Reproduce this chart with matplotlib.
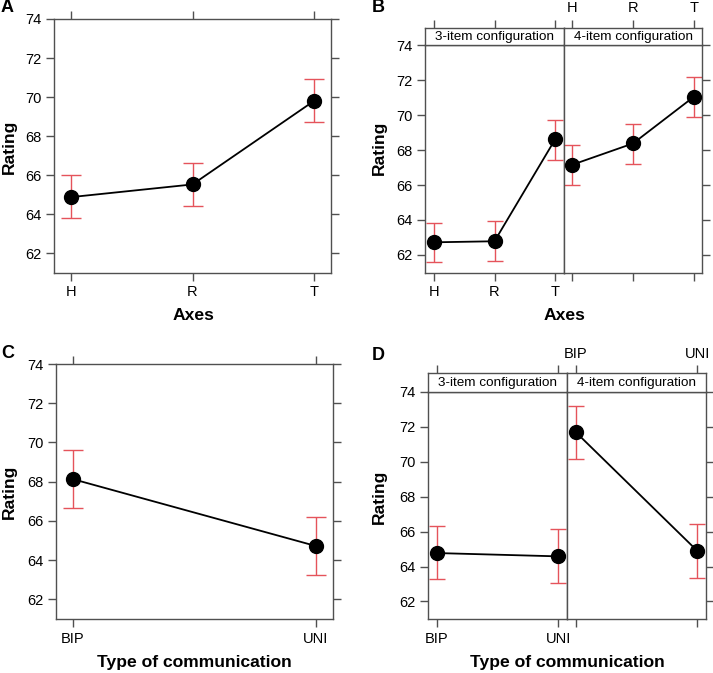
import matplotlib.pyplot as plt
import numpy as np

plt.rcParams['font.family'] = ['Liberation Sans', 'DejaVu Sans']

# data
axes_cats = ["H", "R", "T"]
comm_cats = ["BIP", "UNI"]

a_fit = [64.87, 65.52, 69.80]
a_lo = [63.78, 64.40, 68.72]
a_hi = [66.00, 66.62, 70.90]

b3_fit = [62.72, 62.78, 68.62]
b3_lo = [61.57, 61.64, 67.44]
b3_hi = [63.85, 63.94, 69.74]
b4_fit = [67.16, 68.38, 71.05]
b4_lo = [66.00, 67.22, 69.90]
b4_hi = [68.28, 69.52, 72.20]

c_fit = [68.13, 64.72]
c_lo = [66.64, 63.23]
c_hi = [69.62, 66.22]

d3_fit = [64.77, 64.58]
d3_lo = [63.28, 63.05]
d3_hi = [66.29, 66.15]
d4_fit = [71.70, 64.90]
d4_lo = [70.17, 63.37]
d4_hi = [73.19, 66.42]

W, H = 713, 673
fig = plt.figure(figsize=(W / 100, H / 100), dpi=100)

FRAME = "#505050"
ERR = "#E5535B"
YLIM = (60.98, 74)
YT = [62, 64, 66, 68, 70, 72, 74]


def box(x0, y0, x1, y1):
    return [x0 / W, 1 - y1 / H, (x1 - x0) / W, (y1 - y0) / H]


def style(ax):
    for s in ax.spines.values():
        s.set_color(FRAME)
        s.set_linewidth(1)
    ax.tick_params(direction="out", length=6, width=1, color=FRAME,
                   labelsize=10.5, pad=3)


def draw(ax, cats, fit, lo, hi, cap):
    x = np.arange(1, len(cats) + 1)
    fit = np.array(fit)
    ax.errorbar(x, fit, yerr=[fit - np.array(lo), np.array(hi) - fit],
                fmt="none", ecolor=ERR, elinewidth=1, capsize=cap,
                capthick=1, zorder=2)
    ax.plot(x, fit, color="black", lw=1.3, marker="o", ms=10,
            mfc="black", mec="black", zorder=3)
    ax.set_xlim(1 - 0.07 * (len(cats) - 1), len(cats) + 0.07 * (len(cats) - 1))
    ax.set_ylim(*YLIM)
    ax.set_xticks(x)
    ax.set_yticks(YT)
    style(ax)


def single(pos, cats, fit, lo, hi, cap):
    ax = fig.add_axes(box(*pos))
    draw(ax, cats, fit, lo, hi, cap)
    ax.set_xticklabels(cats)
    ax.tick_params(top=True, right=True, labeltop=False, labelright=False)
    return ax


def paneled(x0, xm, x1, ys, y0, y1, cats, fits, los, his, cap):
    axs = []
    for k, (a, b) in enumerate([(x0, xm), (xm, x1)]):
        ax = fig.add_axes(box(a, y0, b, y1))
        draw(ax, cats, fits[k], los[k], his[k], cap)
        st = fig.add_axes(box(a, ys, b, y0), sharex=ax)
        st.set_yticks([])
        style(st)
        st.text(0.5, 0.47, ["3-item configuration", "4-item configuration"][k],
                transform=st.transAxes, ha="center", va="center", fontsize=9.7)
        st.tick_params(bottom=False, labelbottom=False, top=True)
        if k == 0:
            ax.set_xticklabels(cats)
            ax.tick_params(right=False)
            st.tick_params(labeltop=False)
        else:
            ax.tick_params(left=False, labelleft=False, right=True,
                           labelbottom=False)
            st.tick_params(labeltop=True)
            st.set_xticklabels(cats)
        axs.append(ax)
    return axs


# A
single((54, 19, 331, 273), axes_cats, a_fit, a_lo, a_hi, 7)
# B
paneled(425.3, 563.7, 702.3, 28, 45.3, 272.7, axes_cats,
        [b3_fit, b4_fit], [b3_lo, b4_lo], [b3_hi, b4_hi], 6)
# C
single((55.7, 364, 332.7, 619.3), comm_cats, c_fit, c_lo, c_hi, 7)
# D
paneled(428.3, 567, 705.7, 373.3, 391.7, 619.3, comm_cats,
        [d3_fit, d4_fit], [d3_lo, d4_lo], [d3_hi, d4_hi], 6)

lab = dict(fontsize=12.6, fontweight="bold")
for x, y in [(9, 147), (9, 492), (379, 148), (379, 497)]:
    fig.text(x / W, 1 - y / H, "Rating", rotation=90, ha="center", va="center", **lab)
fig.text(193 / W, 1 - 315 / H, "Axes", ha="center", va="center", **lab)
fig.text(564 / W, 1 - 315 / H, "Axes", ha="center", va="center", **lab)
fig.text(194 / W, 1 - 663 / H, "Type of communication", ha="center", va="center", **lab)
fig.text(567 / W, 1 - 663 / H, "Type of communication", ha="center", va="center", **lab)

for t, x, y in [("A", 1, 7), ("B", 372, 7), ("C", 1, 354), ("D", 372, 355)]:
    fig.text(x / W, 1 - y / H, t, ha="left", va="center", fontsize=13, fontweight="bold")

fig.savefig("out.png", dpi=100)
